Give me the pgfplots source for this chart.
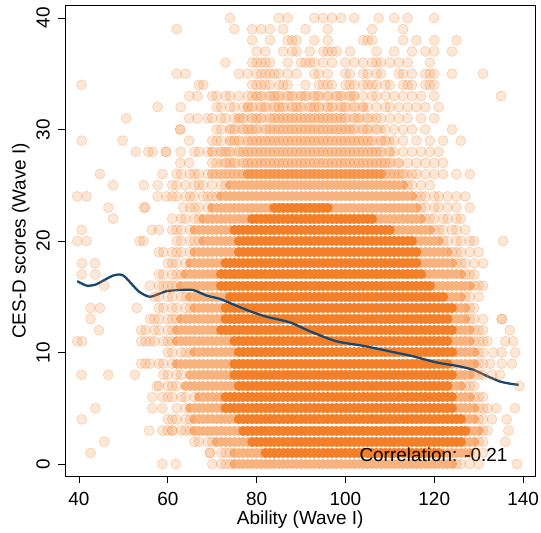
\documentclass[border=0pt]{standalone}
\usepackage{pgfplots}
\pgfplotsset{compat=1.18}
\usepackage{fontspec}
\setmainfont{Liberation Sans}
\definecolor{dotor}{RGB}{243,127,40}
\definecolor{navyline}{RGB}{26,71,111}
\begin{document}
\begin{tikzpicture}
\begin{axis}[
  at={(65bp,57bp)}, anchor=south west,
  scale only axis, width=470.5bp, height=470.3bp,
  xmin=36.85, xmax=142.8, ymin=-1.076, ymax=41.1,
  clip=false,
  xtick=\empty, ytick=\empty,
  xlabel={Ability (Wave I)}, ylabel={CES-D scores (Wave I)},
  label style={font=\fontsize{19}{22}\selectfont, inner sep=0pt},
  xlabel style={at={(axis description cs:0.5,-0.0744)}, anchor=north},
  ylabel style={at={(axis description cs:-0.075,0.5)}, anchor=south},
  dotband/.style={dotor, line width=10bp, line cap=round, unbounded coords=jump,
     dash pattern=on 0.01bp off 4.43bp},
  dotmark/.style={only marks, mark=*, mark size=5bp,
     mark options={fill=dotor, fill opacity=0.19, draw=dotor, draw opacity=0.32, line width=0.6bp}},
]
% light band under the upper rows
\addplot[dotband, opacity=0.25] table {
x y
70 26
114 26
nan nan
72 27
112 27
nan nan
70 28
110 28
nan nan
74 29
110 29
nan nan
74 30
108 30
nan nan
76 31
106 31
nan nan
78 32
104 32
nan nan
80 33
102 33
};
% medium band
\addplot[dotband, opacity=0.6] table {
x y
75 0
124 0
nan nan
75 1
128 1
nan nan
71 2
129 2
nan nan
66 3
130 3
nan nan
66 4
129 4
nan nan
65 5
129 5
nan nan
67 6
128 6
nan nan
64 7
126 7
nan nan
65 8
128 8
nan nan
62 9
129 9
nan nan
66 10
129 10
nan nan
62 11
128 11
nan nan
62 12
128 12
nan nan
63 13
127 13
nan nan
66 14
127 14
nan nan
65 15
126 15
nan nan
63 16
128 16
nan nan
64 17
126 17
nan nan
65 18
124 18
nan nan
66 19
123 19
nan nan
68 20
121 20
nan nan
66 21
119 21
nan nan
68 22
117 22
nan nan
70 23
116 23
nan nan
72 24
115 24
nan nan
74 25
113 25
nan nan
78 26
108 26
};
% solid band
\addplot[dotband] table {
x y
82 1
121 1
nan nan
79 2
126 2
nan nan
77 3
127 3
nan nan
76 4
126 4
nan nan
73 5
124 5
nan nan
73 6
124 6
nan nan
76 7
123 7
nan nan
75 8
124 8
nan nan
75 9
123 9
nan nan
76 10
124 10
nan nan
75 11
123 11
nan nan
72 12
124 12
nan nan
73 13
123 13
nan nan
73 14
124 14
nan nan
74 15
122 15
nan nan
72 16
119 16
nan nan
72 17
117 17
nan nan
73 18
116 18
nan nan
76 19
116 19
nan nan
76 20
115 20
nan nan
75 21
110 21
nan nan
79 22
106 22
nan nan
84 23
96 23
};
% fringe and sparse points, rows 0-25
\addplot[dotmark] coordinates {
(58.8,0)(61.8,0)(70,0)(72,0)(73,0)(74,0)(125,0)(126,0)(128,0)(130,0)(138.6,0)
(42.6,1)(69.5,1)(69.5,1)(72,1)(73,1)(74,1)(129,1)(131,1)
(45.7,2)(66,2)(67,2)(69,2)(70,2)(130,2)(131,2)(136,2)
(55.8,3)(58.8,3)(60,3)(61,3)(61,3)(63,3)(64,3)(65,3)(131,3)(132,3)(136.7,3)
(40.6,4)(60,4)(61,4)(62,4)(64,4)(65,4)(130,4)(131,4)(133,4)(136.3,4)
(43.7,5)(56.5,5)(58.8,5)(62,5)(64,5)(130,5)(131,5)(132,5)(134,5)(138.2,5)
(56.5,6)(58.8,6)(60,6)(61,6)(63,6)(64,6)(66,6)(129,6)(130,6)(131,6)
(57.5,7)(58,7)(60,7)(61,7)(62,7)(127,7)(128,7)(129,7)(139.2,7)
(40.6,8)(46.6,8)(52.6,8)(59,8)(60,8)(62,8)(63,8)(129,8)(130,8)(131,8)(133,8)(134.8,8)
(54,9)(55,9)(56,9)(58,9)(59,9)(61,9)(130,9)(131,9)(132.6,9)(135.2,9)(137.5,9)
(60,10)(61,10)(63,10)(64,10)(65,10)(130,10)(131,10)(133.3,10)(135.2,10)(138.2,10)
(39.6,11)(40.7,11)(54,11)(55,11)(56,11)(57,11)(59,11)(60,11)(61,11)(129,11)(130,11)(131,11)(132,11)(136,11)(137.8,11)
(44.5,12)(54,12)(55,12)(57,12)(58,12)(60,12)(61,12)(129,12)(130,12)(131,12)(137,12)
(42.6,13)(56,13)(57,13)(58,13)(60,13)(61,13)(62,13)(128,13)(129,13)(131,13)(135.2,13)(135.2,13)
(42.6,14)(44.7,14)(53,14)(58,14)(59,14)(61,14)(62,14)(64,14)(65,14)(128,14)(129,14)
(57,15)(58,15)(60,15)(61,15)(63,15)(64,15)(127,15)(128,15)(130,15)
(45.7,16)(56,16)(58,16)(59,16)(60,16)(61,16)(62,16)(129,16)(130,16)(131,16)
(40.6,17)(43.7,17)(58,17)(59,17)(61,17)(62,17)(63,17)(127,17)(128,17)(129,17)
(40.7,18)(43.6,18)(60,18)(61,18)(62,18)(64,18)(125,18)(126,18)(127,18)(129,18)(131,18)
(58,19)(59,19)(61,19)(62,19)(63,19)(65,19)(124,19)(125,19)(126,19)(128,19)(130,19)
(39.6,20)(41.7,20)(53.7,20)(54.5,20)(62,20)(63,20)(65,20)(66,20)(67,20)(122,20)(123,20)(125,20)(126,20)(128,20)(129,20)(135.5,20)
(40.6,21)(56.4,21)(58,21)(61,21)(62,21)(63,21)(65,21)(120,21)(121,21)(122,21)(124,21)(125,21)(127,21)
(47.7,22)(61,22)(63,22)(64,22)(66,22)(67,22)(118,22)(119,22)(120,22)(122,22)(123,22)(125,22)(126,22)
(46.6,23)(54.6,23)(55,23)(63.5,23)(65,23)(66,23)(67,23)(69,23)(117,23)(118,23)(120,23)(121,23)(123,23)(125,23)(128,23)
(39.6,24)(41.7,24)(57.7,24)(59.7,24)(61,24)(62,24)(64,24)(65,24)(66,24)(68,24)(69,24)(70,24)(71,24)(116,24)(117,24)(118,24)(120,24)(121,24)(123,24)(125,24)(127,24)
(47.7,25)(54.6,25)(57.7,25)(61,25)(62,25)(64,25)(66,25)(67,25)(68,25)(70,25)(72,25)(73,25)(114,25)(115,25)(117,25)(119,25)
};
% rows 26-33: fringe points
\addplot[dotmark] coordinates {
(44.7,26)(58.8,26)(62,26)(63,26)(65,26)(66,26)(67,26)(69,26)(70,26)(71,26)(72,26)(73,26)(74,26)(75,26)(112,26)(113,26)(115,26)(116,26)(118,26)(120,26)(122,26)(125,26)(128,26)
(62.8,27)(64.8,27)(70,27)(71,27)(73,27)(74,27)(75,27)(77,27)(109,27)(110,27)(112,27)(114,27)(116,27)(118,27)(120,27)(122,27)
(52.8,28)(55.6,28)(56.6,28)(59.6,28)(59.6,28)(62.9,28)(66,28)(67,28)(69,28)(70,28)(72,28)(73,28)(74,28)(76,28)(77,28)(78,28)(79,28)(107,28)(108,28)(110,28)(111,28)(113,28)(115,28)(117,28)(119,28)(121,28)
(40.6,29)(49.8,29)(64.8,29)(70,29)(71,29)(72,29)(74,29)(75,29)(76,29)(78,29)(79,29)(80,29)(81,29)(105,29)(106,29)(108,29)(109,29)(111,29)(113,29)(116,29)(119,29)(122,29)(126,29)
(62.8,30)(62.8,30)(71,30)(72,30)(74,30)(75,30)(77,30)(78,30)(79,30)(80,30)(82,30)(83,30)(101,30)(102,30)(104,30)(105,30)(107,30)(109,30)(111,30)(113,30)(115,30)(118,30)(124,30)
(50.6,31)(64.8,31)(66.7,31)(69,31)(70,31)(72,31)(73,31)(75,31)(76,31)(77,31)(79,31)(80,31)(81,31)(83,31)(84,31)(85,31)(99,31)(100,31)(102,31)(103,31)(105,31)(107,31)(108,31)(110,31)(112,31)(114,31)(117,31)(120,31)
(57.7,32)(62.9,32)(71,32)(72,32)(74,32)(75,32)(77,32)(78,32)(79,32)(81,32)(82,32)(84,32)(85,32)(86,32)(88,32)(89,32)(90,32)(92,32)(93,32)(94,32)(96,32)(97,32)(99,32)(100,32)(102,32)(104,32)(105,32)(107,32)(109,32)(110,32)(112,32)(114,32)(116,32)(118,32)(121,32)
(64.8,33)(66.7,33)(70,33)(71,33)(73,33)(74,33)(76,33)(78,33)(79,33)(80,33)(81,33)(83,33)(84,33)(85,33)(87,33)(88,33)(90,33)(91,33)(93,33)(94,33)(96,33)(98,33)(99,33)(101,33)(102,33)(104,33)(106,33)(107,33)(109,33)(111,33)(113,33)(115,33)(117,33)(120,33)(135,33)
};
% rows 26-31: core points
\addplot[dotmark] coordinates {
(76,26)(77,26)(78,26)(79,26)(80,26)(81,26)(82,26)(83,26)(84,26)(85,26)(86,26)(87,26)(88,26)(89,26)(90,26)(91,26)(92,26)(93,26)(94,26)(95,26)(96,26)(97,26)(98,26)(99,26)(100,26)(101,26)(102,26)(103,26)(104,26)(105,26)(106,26)(107,26)(108,26)(109,26)(110,26)(111,26)
(78,27)(79,27)(80,27)(81,27)(82,27)(83,27)(84,27)(85,27)(86,27)(87,27)(88,27)(89,27)(90,27)(91,27)(92,27)(93,27)(94,27)(95,27)(96,27)(97,27)(98,27)(99,27)(100,27)(101,27)(102,27)(103,27)(104,27)(105,27)(106,27)(107,27)(108,27)
(80,28)(81,28)(82,28)(83,28)(84,28)(85,28)(86,28)(87,28)(88,28)(89,28)(90,28)(91,28)(92,28)(93,28)(94,28)(95,28)(96,28)(97,28)(98,28)(99,28)(100,28)(101,28)(102,28)(103,28)(104,28)(105,28)(106,28)
(82,29)(83,29)(84,29)(85,29)(86,29)(87,29)(88,29)(89,29)(90,29)(91,29)(92,29)(93,29)(94,29)(95,29)(96,29)(97,29)(98,29)(99,29)(100,29)(101,29)(102,29)(103,29)(104,29)
(84,30)(85,30)(86,30)(87,30)(88,30)(89,30)(90,30)(91,30)(92,30)(93,30)(94,30)(95,30)(96,30)(97,30)(98,30)(99,30)(100,30)
(86,31)(87,31)(88,31)(89,31)(90,31)(91,31)(92,31)(93,31)(94,31)(95,31)(96,31)(97,31)(98,31)
};
% rows 34-40
\addplot[dotmark] coordinates {
(40.6,34)(67,34)(68,34)(79,34)(80,34)(81,34)(82,34)(83,34)(85,34)(86,34)(87,34)(91,34)(94,34)(95,34)(96,34)(97,34)(100,34)(101,34)(102,34)(104,34)(105,34)(106,34)(107,34)(109,34)(110,34)(113,34)(114,34)(115,34)(118,34)(119,34)(120,34)
(62,35)(64,35)(76,35)(78,35)(80,35)(81,35)(82,35)(83,35)(84,35)(85,35)(87,35)(89,35)(93,35)(94,35)(96,35)(100,35)(101,35)(104,35)(105,35)(107,35)(108,35)(112,35)(113,35)(115,35)(118,35)(119,35)(120,35)(124,35)(131,35)
(73,36)(79,36)(80,36)(81,36)(82,36)(83,36)(87,36)(90,36)(91,36)(92,36)(93,36)(95,36)(97,36)(100,36)(102,36)(104,36)(106,36)(107,36)(108,36)(110,36)(112,36)(114,36)(119,36)
(80,37)(82,37)(86,37)(88,37)(89,37)(92,37)(95,37)(96,37)(97,37)(98,37)(101,37)(107,37)(111,37)(115,37)(118,37)(120,37)(124,37)
(79,38)(83,38)(87,38)(88,38)(89,38)(93,38)(96,38)(104,38)(105,38)(106,38)(113,38)(116,38)(120,38)(125,38)
(62,39)(75,39)(79,39)(81,39)(83,39)(86,39)(91,39)(96,39)(106,39)(113,39)
(74,40)(85,40)(87,40)(93,40)(95,40)(97,40)(99,40)(102,40)(107.5,40)(111,40)(114,40)(120,40)
};
% smoothed line
\addplot[navyline, line width=2.3bp, smooth, tension=0.4] coordinates {
(39.6,16.4) (41.7,16.0) (43.8,16.1) (47.7,16.9) (50.0,16.9) (53.4,15.5)
(56.0,15.0) (59.7,15.5) (62.7,15.6) (65.7,15.6) (68.8,15.1) (71.8,14.8)
(74.8,14.3) (78.5,13.7) (82.3,13.2) (87.5,12.7) (92.0,11.9) (98.0,11.0)
(104.0,10.6) (110.0,10.1) (115.3,9.65) (120.6,9.1) (125.1,8.8) (128.8,8.45)
(131.8,7.9) (134.8,7.4) (137.1,7.2) (139.0,7.1)
};
\node[anchor=base east, inner sep=0pt, font=\fontsize{19}{22}\selectfont] at (axis cs:136.55,0.2) {Correlation: -0.21};
\draw[black, line width=0.9bp] (rel axis cs:0,0) rectangle (rel axis cs:1,1);
\pgfplotsinvokeforeach{40,60,80,100,120,140}{
  \draw[black, line width=0.8bp] (axis cs:#1,-1.076) -- ([yshift=-7bp]axis cs:#1,-1.076);
  \node[anchor=base, inner sep=0pt, font=\fontsize{19}{22}\selectfont] at ([yshift=-29bp]axis cs:#1,-1.076) {#1};
}
\pgfplotsinvokeforeach{0,10,20,30,40}{
  \draw[black, line width=0.8bp] (axis cs:36.85,#1) -- ([xshift=-7bp]axis cs:36.85,#1);
  \node[rotate=90, anchor=south, inner sep=0pt, font=\fontsize{19}{22}\selectfont] at ([xshift=-15bp]axis cs:36.85,#1) {#1};
}
\end{axis}
\pgfresetboundingbox
\useasboundingbox (0,0) rectangle (541bp,533bp);
\end{tikzpicture}
\end{document}
